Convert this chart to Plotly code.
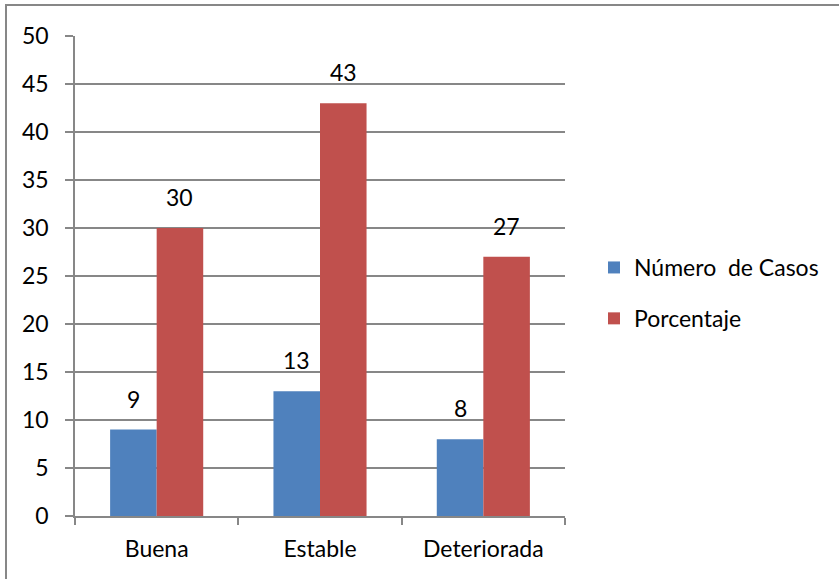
import plotly.graph_objects as go

# Data
categorias = ["Buena", "Estable", "Deteriorada"]
numero_casos = [9, 13, 8]
porcentaje = [30, 43, 27]
y_ticks = [0, 5, 10, 15, 20, 25, 30, 35, 40, 45, 50]

AZUL = "#4F81BD"
ROJO = "#C0504D"
GRIS = "#878787"
FUENTE = "Lato, Carlito, Calibri, sans-serif"
TAM = 23

fig = go.Figure()
fig.add_trace(go.Bar(
    x=categorias, y=numero_casos, name="Número\u00a0 de Casos",
    marker=dict(color=AZUL, line=dict(width=0)), legendgroup="a",
))
fig.add_trace(go.Bar(
    x=categorias, y=porcentaje, name="Porcentaje",
    marker=dict(color=ROJO, line=dict(width=0)), legendgroup="b",
))

# Value labels above each bar
for serie, valores in ((0, numero_casos), (1, porcentaje)):
    for cat, v in zip(categorias, valores):
        fig.add_annotation(
            x=cat, y=v, text=str(v), showarrow=False,
            xref="x", yref="y", xanchor="center", yanchor="middle",
            xshift=-23.3 if serie == 0 else 23.3, yshift=31,
            font=dict(family=FUENTE, size=TAM, color="black"),
        )

# Outer chart border
fig.add_shape(
    type="rect", xref="paper", yref="paper",
    x0=(6 - 75) / 490, x1=(850 - 75) / 490,
    y0=(516 - 600) / 480, y1=(516 - 5) / 480,
    line=dict(color=GRIS, width=2), fillcolor="rgba(0,0,0,0)", layer="below",
)

fig.update_layout(
    width=839, height=579,
    margin=dict(l=75, r=274, t=36, b=63),
    paper_bgcolor="white", plot_bgcolor="white",
    barmode="group", bargap=0.43, bargroupgap=0,
    font=dict(family=FUENTE, size=TAM, color="black"),
    showlegend=True,
    legend=dict(
        x=(594 - 75) / 490, y=(516 - 246) / 480, xanchor="left", yanchor="top",
        font=dict(family=FUENTE, size=TAM, color="black"),
        tracegroupgap=18, bgcolor="rgba(0,0,0,0)",
    ),
    xaxis=dict(
        type="category", showline=True, linecolor=GRIS, linewidth=1.5,
        ticks="outside", tickson="boundaries", ticklen=7, tickcolor=GRIS,
        tickwidth=1.5, showgrid=False, ticklabelstandoff=12,
        tickfont=dict(family=FUENTE, size=TAM, color="black"),
    ),
    yaxis=dict(
        range=[0, 50], tickvals=y_ticks, showline=True, linecolor=GRIS,
        linewidth=1.5, ticks="outside", ticklen=8, tickcolor=GRIS, tickwidth=1.5,
        showgrid=True, gridcolor=GRIS, gridwidth=1.5, zeroline=False,
        ticklabelstandoff=12,
        tickfont=dict(family=FUENTE, size=TAM, color="black"),
    ),
)

fig.write_html("out.html")
